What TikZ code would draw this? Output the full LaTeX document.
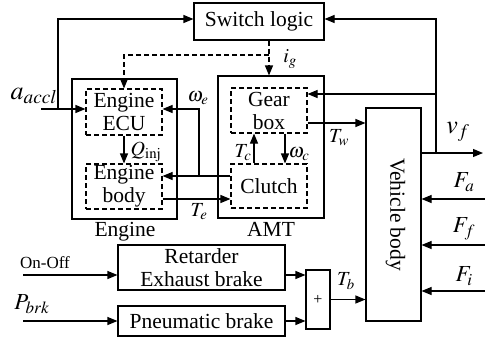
\documentclass[tikz,border=0pt]{standalone}
\usepackage{mathptmx}
\usepackage{fontspec}
\setmainfont{Liberation Serif}
\usetikzlibrary{arrows.meta, positioning, calc}

\tikzset{
  blk/.style={draw, line width=1.1pt, inner sep=0pt, align=center,
              font=\fontsize{21.5}{23}\selectfont},
  dblk/.style={blk, dash pattern=on 5pt off 3pt},
  lbl/.style={inner sep=0pt, font=\fontsize{20}{22}\selectfont},
  sig/.style={line width=1.1pt, -{Triangle[length=10pt,width=8pt]}},
  dsig/.style={sig, dash pattern=on 5pt off 3pt},
}

\begin{document}
\begin{tikzpicture}[x=1pt, y=-1pt]
  \useasboundingbox (0,0) rectangle (485,341);

  % Switch logic
  \node[blk, minimum width=130pt, minimum height=37pt] (switch) at (259,21.5) {Switch logic};

  % Engine
  \node[blk, minimum width=105pt, minimum height=140pt] (engine) at (124.5,149) {};
  \node[dblk, minimum width=76pt, minimum height=46pt] (ecu) at (124,112) {Engine\\ECU};
  \node[dblk, minimum width=76pt, minimum height=45pt] (ebody) at (124,186.5) {Engine\\body};
  \node[blk, draw=none, anchor=base] (englbl) at (125,236) {Engine};

  % AMT
  \node[blk, minimum width=106pt, minimum height=142pt] (amt) at (271,147) {};
  \node[dblk, minimum width=76pt, minimum height=45pt] (gear) at (269,110.5) {Gear\\box};
  \node[dblk, minimum width=76pt, minimum height=44pt] (clutch) at (269,186) {Clutch};
  \node[blk, draw=none, anchor=base] (amtlbl) at (271,236) {AMT};

  % Vehicle body
  \node[blk, minimum width=55pt, minimum height=213pt] (vbody) at (393.5,214.5) {};
  \node[blk, draw=none, rotate=-90] (vbodytxt) at ([xshift=2pt]vbody.center) {Vehicle body};

  % Brakes
  \node[blk, minimum width=167pt, minimum height=45pt] (retarder) at (201.5,267.5) {Retarder\\Exhaust brake};
  \node[blk, minimum width=167pt, minimum height=30pt] (pneu) at (201.5,321) {Pneumatic brake};
  \node[blk, minimum width=24pt, minimum height=59pt, font=\fontsize{16}{18}\selectfont] (sum) at (318,299.5) {+};

  % Labels
  \node[lbl, font=\fontsize{26}{28}\selectfont] (laccl) at (34,96) {$a_{accl}$};
  \node[lbl] (lwe) at (198,98) {$\omega_e$};
  \node[lbl] (lq) at (146,152) {$Q_{\mathrm{inj}}$};
  \node[lbl] (lig) at (290,59) {$i_g$};
  \node[lbl] (lte) at (199,212) {$T_e$};
  \node[lbl] (ltc) at (243,153) {$T_c$};
  \node[lbl] (lwc) at (299,154) {$\omega_c$};
  \node[lbl] (ltw) at (339,138) {$T_w$};
  \node[lbl, font=\fontsize{26}{28}\selectfont] (lvf) at (458,132) {$v_f$};
  \node[lbl, font=\fontsize{23}{25}\selectfont] (lfa) at (464,182) {$F_a$};
  \node[lbl, font=\fontsize{23}{25}\selectfont] (lff) at (464,229) {$F_f$};
  \node[lbl, font=\fontsize{23}{25}\selectfont] (lfi) at (464,276) {$F_i$};
  \node[lbl] (ltb) at (346,281) {$T_b$};
  \node[lbl, font=\fontsize{17}{19}\selectfont] (lonoff) at (45,263) {On-Off};
  \node[lbl, font=\fontsize{23}{25}\selectfont] (lpbrk) at (32,304) {$P_{brk}$};

  % accelerator pedal
  \coordinate (aacc) at (41,109);
  \coordinate (asplit) at (58,109);
  \draw[sig] (aacc) -- (aacc -| ecu.west);
  \draw[sig] (asplit) |- ([yshift=2.5pt]switch.west);

  % gear ratio
  \coordinate (gsplit) at (269,55);
  \draw[dsig] (switch.south -| gsplit) -- (amt.north -| gsplit);
  \draw[dsig] (gsplit) -| (ecu.north);

  % engine
  \draw[sig] (ecu.south) -- (ebody.north);
  \coordinate (wsplit) at (199,176);
  \draw[sig] (clutch.west |- wsplit) -- (ebody.east |- wsplit);
  \draw[sig] (wsplit) |- ([yshift=3pt]ecu.east);
  \path ([yshift=-12.5pt]ebody.east) coordinate (teo);
  \draw[sig] (teo) -- (teo -| clutch.west);

  % transmission
  \draw[sig] ([xshift=-15pt]clutch.north) -- ([xshift=-15pt]gear.south);
  \draw[sig] ([xshift=16pt]gear.south) -- ([xshift=16pt]clutch.north);
  \path ([yshift=-12.5pt]gear.east) coordinate (two);
  \draw[sig] (two) -- (two -| vbody.west);

  % vehicle speed
  \coordinate (vf) at (483,153);
  \coordinate (vsplit) at (436,153);
  \draw[sig] (vf -| vbody.east) -- (vf);
  \draw[sig] (vsplit) |- ([yshift=2.5pt]switch.east);
  \path ([yshift=16.5pt]gear.east) coordinate (gin);
  \draw[sig] (vsplit |- gin) -- (gin);

  % road loads
  \foreach \n/\y in {fa/199, ff/245, fi/291} {
    \coordinate (\n) at (485,\y);
    \draw[sig] (\n) -- (\n -| vbody.east);
  }

  % brakes
  \coordinate (onoff) at (23,275);
  \coordinate (pbrk) at (23,321);
  \draw[sig] (onoff) -- (onoff -| retarder.west);
  \draw[sig] (pbrk) -- (pbrk -| pneu.west);
  \path ([yshift=-7.5pt]retarder.east) coordinate (reto);
  \draw[sig] (reto) -- (reto -| sum.west);
  \draw[sig] (pneu.east) -- (pneu.east -| sum.west);
  \draw[sig] (sum.east) -- (sum.east -| vbody.west);
\end{tikzpicture}
\end{document}
